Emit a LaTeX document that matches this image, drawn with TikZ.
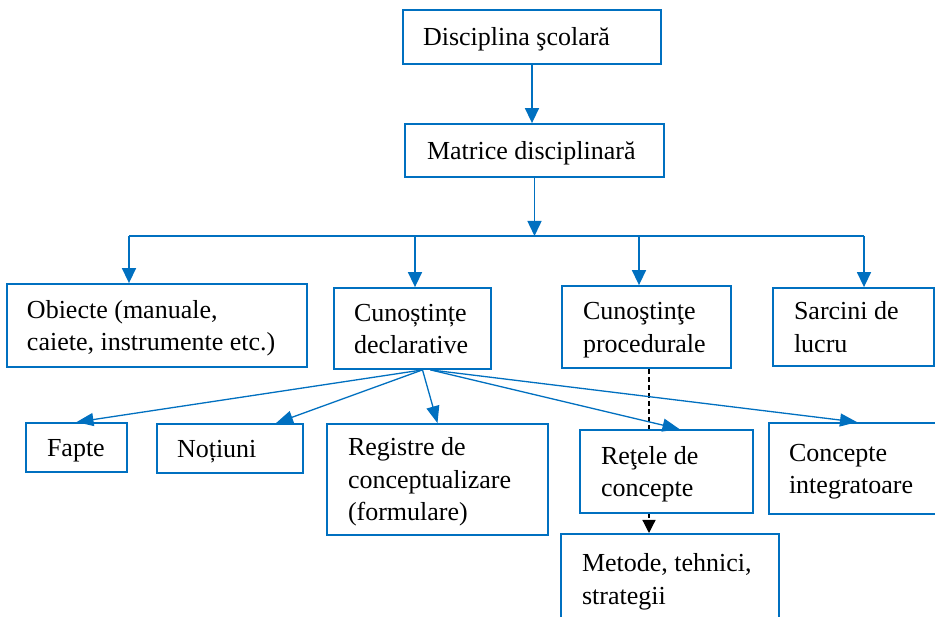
\documentclass[tikz,border=0pt]{standalone}
\usepackage{fontspec}
\setmainfont{Liberation Serif}
\usetikzlibrary{arrows.meta,backgrounds}
\definecolor{bblue}{HTML}{0070C0}
\newcommand\boxfont{\fontsize{26}{32.5}\selectfont}
\newcommand\bxstrut{\rule[-6pt]{0pt}{30pt}}
\tikzset{
  bx/.style={draw=bblue, line width=1.8pt, fill=white, align=flush left,
    inner ysep=0pt, font=\boxfont, text=black,
    execute at begin node=\bxstrut, execute at end node=\bxstrut},
  conn/.style={draw=bblue, line width=1.5pt},
  arr/.style={conn, -{Triangle[length=15pt,width=14pt]}},
  fan/.style={conn, line width=1.3pt, -{Triangle[length=17pt,width=13pt]}},
  dsh/.style={draw=black, line width=1.2pt, dash pattern=on 5pt off 3pt,
    -{Triangle[length=13pt,width=13pt]}}
}
\begin{document}
\begin{tikzpicture}[x=1pt,y=-1pt]
\useasboundingbox (0,0) rectangle (935,617);
% boxes
\node[bx, inner xsep=20pt, text width=218pt, minimum height=54pt] (disc) at (532,37) {Disciplina şcolară};
\node[bx, inner xsep=22pt, text width=215pt, minimum height=53pt] (matr) at (534.5,150.5) {Matrice disciplinară};
\node[bx, inner xsep=20pt, text width=260pt, minimum height=83pt] (obj) at (157,325.5) {Obiecte (manuale,\\caiete, instrumente etc.)};
\node[bx, inner xsep=20pt, text width=117pt, minimum height=81pt] (decl) at (412.5,328.5) {Cunoștințe\\declarative};
\node[bx, inner xsep=21pt, text width=127pt, minimum height=82pt] (proc) at (646.5,327) {Cunoştinţe\\procedurale};
\node[bx, inner xsep=21pt, text width=119pt, minimum height=78pt] (sarc) at (853.5,327) {Sarcini de\\lucru};
\node[bx, inner xsep=21pt, text width=59pt, minimum height=49pt] (fapte) at (76.5,447.5) {Fapte};
\node[bx, inner xsep=20pt, text width=106pt, minimum height=49pt] (notiuni) at (230,448.5) {Noțiuni};
\node[bx, inner xsep=21pt, text width=179pt, minimum height=111pt] (reg) at (437.5,479.5) {Registre de\\conceptualizare\\(formulare)};
\node[bx, inner xsep=21pt, text width=131pt, minimum height=83pt] (retele) at (666.5,471.5) {Reţele de\\concepte};
\node[bx, inner xsep=20pt, text width=136pt, minimum height=91pt] (conc) at (857,468.5) {Concepte\\integratoare};
\node[bx, inner xsep=21pt, text width=176pt, minimum height=90pt, anchor=north] (metode) at (670,533) {Metode, tehnici,\\strategii};
% main tree
\coordinate (bus) at (533,236);
\draw[arr] (disc.south) -- (disc.south |- matr.north);
\draw[arr] (matr.south) -- (matr.south |- bus);
\draw[conn] ([xshift=-28pt]obj.north |- bus) -- ([xshift=10.5pt]sarc.north |- bus);
\draw[arr] ([xshift=-28pt]obj.north |- bus) -- ([xshift=-28pt]obj.north);
\draw[arr] ([xshift=2.5pt]decl.north |- bus) -- ([xshift=2.5pt]decl.north);
\draw[arr] ([xshift=-7.5pt]proc.north |- bus) -- ([xshift=-7.5pt]proc.north);
\draw[arr] ([xshift=10.5pt]sarc.north |- bus) -- ([xshift=10.5pt]sarc.north);
% fan from declarative
\draw[fan] ([xshift=10pt]decl.south) -- (fapte.north);
\draw[fan] ([xshift=10pt]decl.south) -- ([xshift=46pt]notiuni.north);
\draw[fan] ([xshift=10pt]decl.south) -- (reg.north);
\draw[fan] ([xshift=18pt]decl.south) -- ([xshift=13pt]retele.north);
\draw[fan] ([xshift=18pt]decl.south) -- (conc.north);
% background and dashed link
\begin{pgfonlayer}{background}
\fill[white] (0,0) rectangle (935,617);
\draw[dsh] ([xshift=2.5pt]proc.south) -- ([xshift=2.5pt]proc.south |- metode.north);
\end{pgfonlayer}
\end{tikzpicture}
\end{document}
